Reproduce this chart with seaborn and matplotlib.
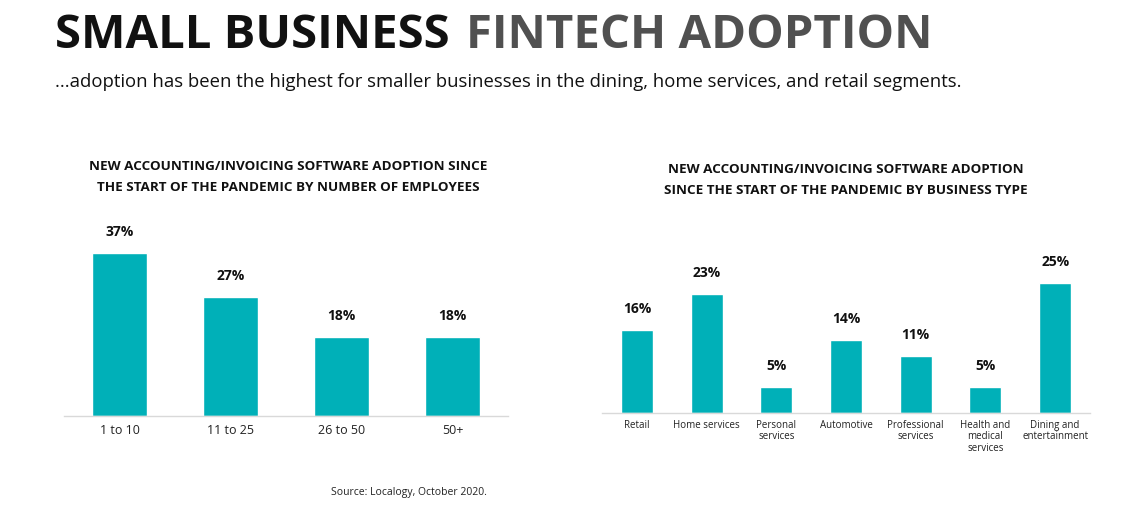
import matplotlib
matplotlib.use('Agg')
import matplotlib.pyplot as plt
import seaborn as sns
import pandas as pd

# data
emp_groups = ['1 to 10', '11 to 25', '26 to 50', '50+']
emp_values = [37, 27, 18, 18]

biz_types = ['Retail', 'Home services', 'Personal\nservices', 'Automotive',
             'Professional\nservices', 'Health and\nmedical\nservices', 'Dining and\nentertainment']
biz_values = [16, 23, 5, 14, 11, 5, 25]

teal = '#00B0B8'
sns.set_style('white')
plt.rcParams['font.family'] = ['Open Sans', 'DejaVu Sans']

fig = plt.figure(figsize=(11.39, 5.17), dpi=100)

# header
fig.text(55 / 1139, 1 - 35 / 517, 'SMALL BUSINESS', fontsize=34, fontweight='bold',
         color='#111111', va='center', ha='left')
fig.text(466 / 1139, 1 - 35 / 517, 'FINTECH ADOPTION', fontsize=34, fontweight='bold',
         color='#505050', va='center', ha='left')
fig.text(55 / 1139, 1 - 82 / 517,
         '...adoption has been the highest for smaller businesses in the dining, home services, and retail segments.',
         fontsize=13.3, color='#111111', va='center', ha='left')


def style_axis(ax, n, ymax):
    ax.set_ylim(0, ymax)
    ax.set_xlim(-0.5, n - 0.5)
    for s in ['top', 'right', 'left']:
        ax.spines[s].set_visible(False)
    ax.spines['bottom'].set_color('#d9d9d9')
    ax.spines['bottom'].set_linewidth(1)
    ax.set_yticks([])
    ax.set_xlabel('')
    ax.set_ylabel('')
    ax.set_xticks([i - 0.5 for i in range(n + 1)], minor=True)
    ax.tick_params(axis='x', which='major', length=0, pad=6)
    ax.tick_params(axis='x', which='minor', length=4, color='#d9d9d9', direction='out')


# left chart
ax1 = fig.add_axes([64 / 1139, 101 / 517, 444 / 1139, 186 / 517])
df1 = pd.DataFrame({'group': emp_groups, 'value': emp_values})
sns.barplot(data=df1, x='group', y='value', color=teal, width=0.5, saturation=1, ax=ax1)
style_axis(ax1, len(emp_groups), 42.3)
ax1.tick_params(axis='x', labelsize=9, labelcolor='#222222')
ax1.bar_label(ax1.containers[0], labels=[f'{v}%' for v in emp_values], padding=10,
              fontsize=10, fontweight='bold', color='#111111')
fig.text(288 / 1139, 1 - 177 / 517,
         'NEW ACCOUNTING/INVOICING SOFTWARE ADOPTION SINCE\nTHE START OF THE PANDEMIC BY NUMBER OF EMPLOYEES',
         fontsize=9.7, fontweight='bold', ha='center', va='center', linespacing=1.75, color='#111111')

# right chart
ax2 = fig.add_axes([602 / 1139, 104 / 517, 488 / 1139, 161 / 517])
df2 = pd.DataFrame({'type': biz_types, 'value': biz_values})
sns.barplot(data=df2, x='type', y='value', color=teal, width=0.46, saturation=1, ax=ax2)
style_axis(ax2, len(biz_types), 31)
ax2.tick_params(axis='x', labelsize=7, labelcolor='#222222', pad=5)
for lbl in ax2.get_xticklabels():
    lbl.set_va('top')
    lbl.set_linespacing(1.05)
ax2.bar_label(ax2.containers[0], labels=[f'{v}%' for v in biz_values], padding=10,
              fontsize=10, fontweight='bold', color='#111111')
fig.text(846 / 1139, 1 - 180 / 517,
         'NEW ACCOUNTING/INVOICING SOFTWARE ADOPTION\nSINCE THE START OF THE PANDEMIC BY BUSINESS TYPE',
         fontsize=9.7, fontweight='bold', ha='center', va='center', linespacing=1.75, color='#111111')

fig.text(409 / 1139, 1 - 492 / 517, 'Source: Localogy, October 2020.', fontsize=7.5,
         ha='center', va='center', color='#222222')

fig.savefig('out.png', dpi=100)
